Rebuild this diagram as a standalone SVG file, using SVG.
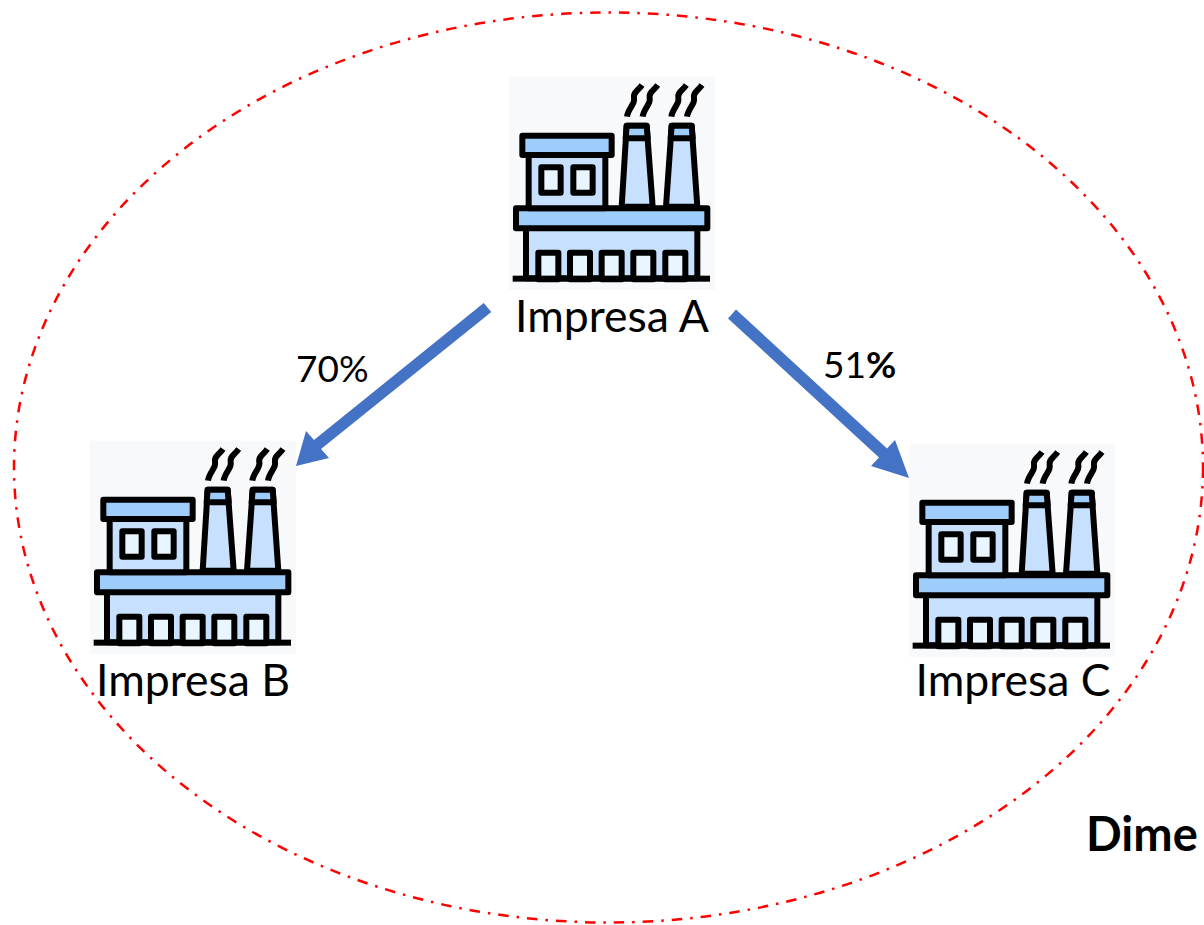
<svg xmlns="http://www.w3.org/2000/svg" width="1204" height="925" viewBox="0 0 1204 925">
<style>
text{font-family:"Lato","Liberation Sans",sans-serif;fill:#000}
.lab{font-size:44.500px}
.pct{font-size:37px}
.k{stroke:#000;stroke-width:18;stroke-linejoin:round}
.l{fill:#c6e0fd}.m{fill:#9fcdfb}.w{fill:#e9f5ff}
.s{fill:none;stroke:#000;stroke-width:18}
.arrow{fill:#4472c4}
</style>
<defs>
<g id="factory">
<rect x="27" y="20" width="618" height="640" fill="#f8f9fb"/>
<g class="k">
<rect class="l" x="78" y="470" width="514" height="155"/>
<rect class="w" x="115" y="548" width="60" height="80"/>
<rect class="w" x="210" y="548" width="60" height="80"/>
<rect class="w" x="305" y="548" width="60" height="80"/>
<rect class="w" x="400" y="548" width="60" height="80"/>
<rect class="w" x="496" y="548" width="60" height="80"/>
<rect class="m" x="48" y="415" width="574" height="60"/>
<rect class="l" x="86" y="250" width="230" height="165"/>
<rect class="m" x="67" y="197" width="268" height="58"/>
<rect class="w" x="124" y="292" width="58" height="76"/>
<rect class="w" x="220" y="292" width="58" height="76"/>
<path class="l" d="M380 167H440L458 410H365Z"/>
<path class="l" d="M515 167H575L592 410H498Z"/>
<path class="m" d="M377 205H443L440 167H380Z"/>
<path class="m" d="M512 205H578L575 167H515Z"/>
</g>
<rect y="617" x="38" width="592" height="18"/>
<path class="s" d="M426 45C414 62 398 68 402 85S384 115 381 140"/>
<path class="s" d="M473 45C461 62 445 68 449 85S431 115 428 140"/>
<path class="s" d="M559 45C547 62 531 68 535 85S517 115 514 140"/>
<path class="s" d="M606 45C594 62 578 68 582 85S564 115 561 140"/>
</g>
</defs>
<g id="boundary">
<ellipse cx="608.500" cy="467.500" rx="594.500" ry="455" fill="none" stroke="#f00" stroke-width="2.500" stroke-dasharray="10.500 8 2.500 8"/>
</g>
<g id="impresa-a">
<use href="#factory" transform="translate(500,70) scale(.33333)"/>
<text class="lab" x="612" y="332" text-anchor="middle">Impresa A</text>
</g>
<g id="impresa-b">
<use href="#factory" transform="translate(81,434) scale(.33333)"/>
<text class="lab" x="193" y="696" text-anchor="middle">Impresa B</text>
</g>
<g id="impresa-c">
<use href="#factory" transform="translate(900,437) scale(.33333)"/>
<text class="lab" x="1013" y="696" text-anchor="middle">Impresa C</text>
</g>
<g id="connectors">
<polygon class="arrow" points="483.700,302.900 491.300,312.100 321,449 329,458 296,466 306,431 314,440"/>
<polygon class="arrow" points="736,309.600 728,318.400 879,457.400 871,466 909,478 895,440 887,448.600"/>
</g>
<g id="labels">
<text class="pct" x="296" y="382">70%</text>
<text class="pct" x="823" y="378">51<tspan font-weight="700">%</tspan></text>
<text x="1086" y="851" font-size="47" font-weight="700">Dime</text>
</g>
</svg>
